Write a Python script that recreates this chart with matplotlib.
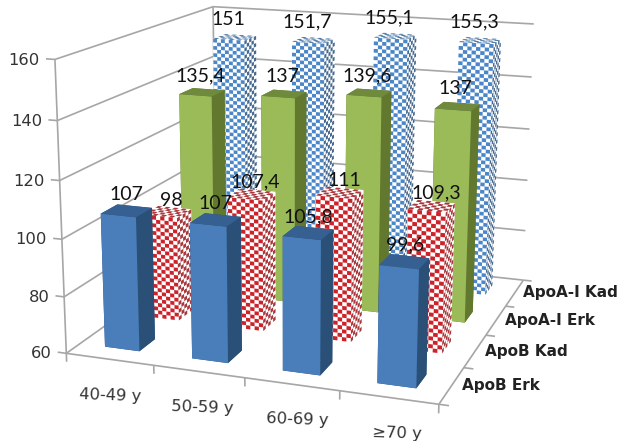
import matplotlib
matplotlib.use("Agg")
import matplotlib.pyplot as plt
import numpy as np
from mpl_toolkits.mplot3d.art3d import Poly3DCollection

CATEGORIES = ["40-49 y", "50-59 y", "60-69 y", "≥70 y"]
SERIES = ["ApoB Erk", "ApoB Kad", "ApoA-I Erk", "ApoA-I Kad"]
apob_erk = [107, 107, 105.8, 99.6]
apob_kad = [98, 107.4, 111, 109.3]
apoa_erk = [135.4, 137, 139.6, 137]
apoa_kad = [151, 151.7, 155.1, 155.3]
VALUES = [apob_erk, apob_kad, apoa_erk, apoa_kad]
Z_TICKS = [60, 80, 100, 120, 140, 160]

W_PX, H_PX = 620, 441
Z_MIN, Z_MAX = 60, 160
BAR_X0, BAR_DX = 0.29, 0.40
BAR_Y0, BAR_DY = 0.31, 0.38
GRID = "#a6a6a6"

# (front, top, right) face colours, and whether the front is checkered
STYLES = [
    ("#4a7ebb", "#376092", "#2a5078", False),
    ("#cc2229", "#a8383c", "#a8383c", True),
    ("#9bbb59", "#6f8a3c", "#62782f", False),
    ("#4a86c8", "#4f7aa8", "#45698f", True),
]
# pixel shift of the value labels per series
LABEL_SHIFT = [(0, 0), (4, 3), (-2, -2), (-6, -4)]

# camera calibration: world (category, series, value) -> pixel position
ANCHORS = [
    ((0, 0, 60), (67, 353)), ((0, 0, 80), (63, 297)), ((0, 0, 100), (62, 239)),
    ((0, 0, 120), (60, 180)), ((0, 0, 140), (57, 120)), ((0, 0, 160), (55, 60)),
    ((1, 0, 60), (154, 365)), ((2, 0, 60), (245, 379)), ((3, 0, 60), (340, 392)),
    ((4, 0, 60), (439, 403)), ((4, 1, 60), (464, 367)), ((4, 2, 60), (485, 336)),
    ((4, 3, 60), (505, 307)), ((4, 4, 60), (523, 279)), ((4, 4, 80), (526, 231)),
    ((4, 4, 100), (528, 180)), ((4, 4, 120), (530, 129)), ((4, 4, 140), (532, 77)),
    ((4, 4, 160), (533, 24)), ((0, 4, 160), (213, 7)),
]


def fit_camera(anchors) -> np.ndarray:
    """Least-squares 3x4 projective camera from world/pixel pairs."""
    rows, rhs = [], []
    for (x, y, z), (u, v) in anchors:
        rows.append([x, y, z, 1, 0, 0, 0, 0, -u * x, -u * y, -u * z])
        rows.append([0, 0, 0, 0, x, y, z, 1, -v * x, -v * y, -v * z])
        rhs += [u, v]
    p = np.linalg.lstsq(np.array(rows, float), np.array(rhs, float), rcond=None)[0]
    cam = np.append(p, 1.0).reshape(3, 4)
    return cam * np.sign(cam[2] @ np.array([2, 2, 100, 1.0]))


plt.rcParams["font.family"] = ["DejaVu Sans"]

fig = plt.figure(figsize=(W_PX / 100, H_PX / 100), dpi=100)
# 3D axes are forced square, so let the box run past the figure top and bottom
pad = (W_PX - H_PX) / 2
ax = fig.add_axes([0, -pad / H_PX, 1, W_PX / H_PX], projection="3d")
ax.set_axis_off()
ax.computed_zorder = False
CAM = fit_camera(ANCHORS)


def pixel_proj() -> np.ndarray:
    x0, x1 = ax.viewLim.intervalx
    y0, y1 = ax.viewLim.intervaly
    kx = (x1 - x0) / W_PX
    ky = (y1 - y0) / W_PX
    row_x = x0 * CAM[2] + kx * CAM[0]
    row_y = y1 * CAM[2] - ky * (CAM[1] + pad * CAM[2])
    return np.array([row_x, row_y, [0, 0, 0, -1.0], CAM[2]])


ax.get_proj = pixel_proj


def label(x, y, z, text, dx=0, dy=0, **kw):
    """Flat text at a world position, with an optional pixel shift."""
    u, v, w = CAM @ np.array([x, y, z, 1.0])
    fig.text((u / w + dx) / W_PX, 1 - (v / w + dy) / H_PX, text, zorder=100, **kw)


def checker(origin, edge_a, edge_b, n_a, n_b, color, zorder):
    """Paint every other cell of the face spanned by two edges."""
    origin, edge_a, edge_b = map(np.asarray, (origin, edge_a, edge_b))
    cells = []
    for i in range(n_a):
        for j in range(n_b):
            if (i + j) % 2:
                continue
            p = origin + edge_a * i / n_a + edge_b * j / n_b
            a = edge_a / n_a
            b = edge_b / n_b
            cells.append([p, p + a, p + a + b, p + b])
    ax.add_collection3d(Poly3DCollection(cells, facecolors=color,
                                         edgecolors="none", zorder=zorder))


def draw_line(p, q, lw=1.2):
    ax.plot(*zip(p, q), color=GRID, lw=lw, zorder=1, solid_capstyle="butt")


# walls and floor
for z in Z_TICKS:
    draw_line((0, 0, z), (0, 4, z))
    draw_line((0, 4, z), (4, 4, z))
    draw_line((-0.1, 0, z), (0, 0, z))
draw_line((0, 0, Z_MIN), (0, 0, Z_MAX))
draw_line((0, 4, Z_MIN), (0, 4, Z_MAX))
draw_line((0, 0, Z_MIN), (4, 0, Z_MIN))
draw_line((4, 0, Z_MIN), (4, 4, Z_MIN))
for i in range(len(CATEGORIES) + 1):
    draw_line((i, 0, Z_MIN), (i, 0, Z_MIN - 3))
for j in range(len(SERIES) + 1):
    draw_line((4, j, Z_MIN), (4.1, j, Z_MIN))

# bars, back row first
order = 10
for j in reversed(range(len(SERIES))):
    front, top, side, checked = STYLES[j]
    for i, value in enumerate(VALUES[j]):
        x, y = i + BAR_X0, j + BAR_Y0
        h = value - Z_MIN
        order += 1
        if checked:
            ax.bar3d(x, y, Z_MIN, BAR_DX, BAR_DY, h, color="white", shade=False,
                     edgecolor="none", zorder=order)
            n_z = int(round(h / 1.4))
            checker((x, y, Z_MIN), (BAR_DX, 0, 0), (0, 0, h), 8, n_z, front, order)
            checker((x + BAR_DX, y, Z_MIN), (0, BAR_DY, 0), (0, 0, h), 5, n_z, side, order)
            checker((x, y, value), (BAR_DX, 0, 0), (0, BAR_DY, 0), 8, 5, top, order)
        else:
            # faces: bottom, top, front, back, left, right
            ax.bar3d(x, y, Z_MIN, BAR_DX, BAR_DY, h,
                     color=[side, top, front, side, side, side],
                     shade=False, edgecolor="none", zorder=order)

# value labels
for j, series in enumerate(VALUES):
    dx, dy = LABEL_SHIFT[j]
    for i, value in enumerate(series):
        label(i + BAR_X0 + BAR_DX / 2, j + BAR_Y0 + BAR_DY / 2, value + 5.5,
              str(value).replace(".", ","), dx=dx, dy=dy, family="Lato", fontsize=14,
              color="#111111", ha="center", va="center")

for z in Z_TICKS:
    label(-0.17, 0, z, str(z), dy=2, fontsize=11.8, color="#333333", ha="right", va="center")
for i, cat in enumerate(CATEGORIES):
    label(i + 0.5, 0, Z_MIN - 13, cat, dx=3 * i, dy=-i, fontsize=11.8, color="#333333",
          ha="center", va="center", rotation=-2)
for j, name in enumerate(SERIES):
    label(4.1, j + 0.5, Z_MIN, name, dy=-1, fontsize=11, fontweight="bold", color="#222222",
          ha="left", va="center")

fig.savefig("out.png", dpi=100)
